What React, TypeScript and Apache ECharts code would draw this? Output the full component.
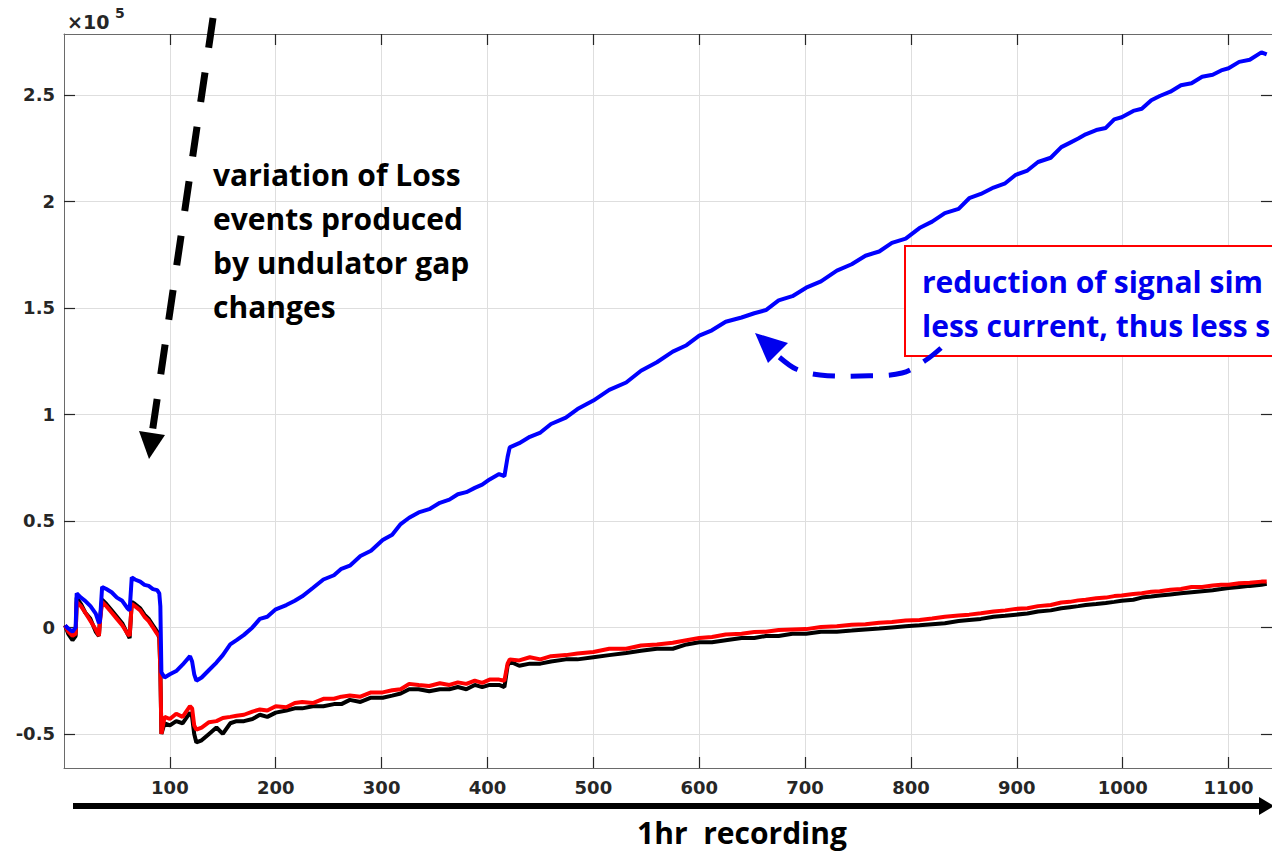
import React, { useEffect, useRef } from "react";
import * as echarts from "echarts";

// Sample index (x) shared by all three traces
const X = [1, 4, 8, 11, 12, 16, 20, 25, 30, 33, 34, 36, 40, 45, 50, 55, 60, 62, 64, 67, 72, 76, 80, 84, 88, 90, 91, 92, 95, 100, 106, 112, 119, 121, 123, 125, 130, 137, 144, 150, 157, 163, 170, 178, 185, 192, 200, 210, 218, 225, 235, 245, 255, 262, 270, 280, 290, 301, 310, 318, 326, 335, 345, 355, 364, 372, 380, 388, 395, 402, 411, 416, 419, 421, 430, 440, 450, 460, 474, 485, 500, 515, 531, 545, 560, 575, 588, 600, 612, 625, 640, 652, 663, 675, 688, 701, 715, 730, 744, 757, 770, 782, 795, 808, 820, 832, 845, 855, 866, 878, 889, 899, 910, 920, 932, 942, 950, 958, 965, 975, 984, 992, 999, 1010, 1018, 1027, 1035, 1045, 1055, 1065, 1075, 1085, 1093, 1100, 1110, 1120, 1131, 1136];

// values in units of 1e5
const BLUE = [0.01, -0.005, -0.02, 0.0, 0.16, 0.14, 0.125, 0.1, 0.065, 0.02, 0.03, 0.19, 0.18, 0.165, 0.14, 0.125, 0.09, 0.08, 0.235, 0.225, 0.215, 0.2, 0.195, 0.18, 0.175, 0.16, 0.1, -0.21, -0.235, -0.22, -0.205, -0.175, -0.135, -0.16, -0.22, -0.25, -0.235, -0.2, -0.165, -0.13, -0.08, -0.06, -0.035, 0.0, 0.04, 0.05, 0.085, 0.105, 0.125, 0.146, 0.185, 0.225, 0.245, 0.275, 0.29, 0.335, 0.36, 0.41, 0.435, 0.485, 0.515, 0.54, 0.555, 0.585, 0.6, 0.625, 0.635, 0.655, 0.67, 0.695, 0.72, 0.71, 0.8, 0.845, 0.865, 0.895, 0.915, 0.955, 0.985, 1.025, 1.065, 1.115, 1.15, 1.205, 1.245, 1.295, 1.325, 1.37, 1.395, 1.435, 1.455, 1.475, 1.49, 1.535, 1.555, 1.595, 1.625, 1.675, 1.705, 1.745, 1.765, 1.805, 1.825, 1.875, 1.905, 1.945, 1.965, 2.015, 2.035, 2.065, 2.085, 2.125, 2.145, 2.185, 2.205, 2.255, 2.275, 2.295, 2.315, 2.335, 2.345, 2.385, 2.395, 2.425, 2.435, 2.475, 2.495, 2.515, 2.545, 2.555, 2.585, 2.595, 2.615, 2.625, 2.655, 2.665, 2.7, 2.69];

const RED = [0.01, -0.02, -0.04, -0.03, 0.12, 0.1, 0.07, 0.03, -0.01, -0.04, 0.03, 0.12, 0.1, 0.07, 0.04, 0.01, -0.03, -0.04, 0.11, 0.1, 0.08, 0.05, 0.03, 0.0, -0.03, -0.04, -0.2, -0.5, -0.42, -0.43, -0.405, -0.42, -0.37, -0.38, -0.46, -0.48, -0.47, -0.445, -0.44, -0.425, -0.42, -0.415, -0.41, -0.395, -0.385, -0.39, -0.37, -0.375, -0.355, -0.35, -0.355, -0.335, -0.335, -0.325, -0.32, -0.325, -0.305, -0.305, -0.295, -0.29, -0.265, -0.27, -0.275, -0.262, -0.27, -0.258, -0.265, -0.25, -0.26, -0.245, -0.245, -0.25, -0.17, -0.15, -0.155, -0.14, -0.15, -0.135, -0.13, -0.122, -0.115, -0.1, -0.1, -0.085, -0.08, -0.072, -0.06, -0.05, -0.045, -0.033, -0.03, -0.022, -0.02, -0.012, -0.01, -0.008, 0.002, 0.005, 0.012, 0.015, 0.022, 0.025, 0.032, 0.035, 0.042, 0.05, 0.056, 0.06, 0.067, 0.075, 0.08, 0.087, 0.09, 0.1, 0.105, 0.117, 0.12, 0.127, 0.13, 0.137, 0.14, 0.147, 0.15, 0.157, 0.16, 0.167, 0.17, 0.177, 0.18, 0.19, 0.19, 0.197, 0.2, 0.2, 0.207, 0.21, 0.215, 0.215];

const BLACK = [0.01, -0.03, -0.06, -0.04, 0.14, 0.11, 0.07, 0.04, -0.02, -0.04, 0.04, 0.13, 0.11, 0.08, 0.05, 0.02, -0.03, -0.05, 0.12, 0.11, 0.09, 0.06, 0.04, 0.01, -0.02, -0.05, -0.2, -0.5, -0.45, -0.46, -0.44, -0.45, -0.4, -0.42, -0.5, -0.54, -0.53, -0.5, -0.47, -0.5, -0.45, -0.44, -0.44, -0.43, -0.41, -0.42, -0.4, -0.39, -0.38, -0.38, -0.37, -0.37, -0.36, -0.36, -0.34, -0.35, -0.33, -0.33, -0.32, -0.31, -0.29, -0.29, -0.3, -0.29, -0.29, -0.28, -0.29, -0.27, -0.28, -0.27, -0.27, -0.28, -0.18, -0.16, -0.18, -0.17, -0.17, -0.16, -0.15, -0.15, -0.14, -0.13, -0.12, -0.11, -0.1, -0.1, -0.08, -0.07, -0.07, -0.06, -0.05, -0.05, -0.04, -0.04, -0.03, -0.03, -0.02, -0.02, -0.015, -0.01, -0.005, 0.0, 0.005, 0.01, 0.015, 0.02, 0.03, 0.035, 0.04, 0.05, 0.055, 0.06, 0.065, 0.075, 0.08, 0.09, 0.095, 0.1, 0.105, 0.11, 0.115, 0.12, 0.125, 0.13, 0.14, 0.145, 0.15, 0.155, 0.16, 0.165, 0.17, 0.175, 0.18, 0.185, 0.19, 0.195, 0.2, 0.205];

const X_TICKS = [100, 200, 300, 400, 500, 600, 700, 800, 900, 1000, 1100];
const Y_TICKS = [-0.5, 0, 0.5, 1, 1.5, 2, 2.5];

const NOTE_LEFT = "variation of Loss\nevents produced\nby undulator gap\nchanges";
// the boxed note runs off the right edge of the reference picture; visible part only
const NOTE_RIGHT = "reduction of signal sim\nless current, thus less s";
const X_TITLE = "1hr  recording";

const pairs = (ys: number[]) => X.map((x, i) => [x, ys[i]]);

export default function App() {
  const ref = useRef<HTMLDivElement>(null);
  useEffect(() => {
    if (!ref.current) return;
    const chart = echarts.init(ref.current, null, { renderer: "svg" });
    const tickLabel = {
      color: "#262626",
      fontFamily: "DejaVu Sans",
      fontWeight: "bold" as const,
      fontSize: 18,
    };
    const gridLine = { show: true, lineStyle: { color: "#dedede", width: 1 } };
    const axLine = { show: true, onZero: false, lineStyle: { color: "#6a6a6a", width: 1 } };
    const tick = (vals: number[]) => ({
      show: true,
      inside: true,
      length: 11,
      customValues: vals,
      lineStyle: { color: "#262626", width: 1.2 },
    });
    const annoFont = { fontFamily: "Open Sans", fontWeight: "bold" as const };
    chart.setOption({
      animation: false,
      backgroundColor: "#ffffff",
      grid: { left: 64, right: -4, top: 34, bottom: 84, containLabel: false },
      xAxis: [
        {
          type: "value",
          min: 0,
          max: 1141,
          position: "bottom",
          axisLine: axLine,
          axisTick: tick(X_TICKS),
          axisLabel: { ...tickLabel, margin: 10, customValues: X_TICKS, formatter: (v: number) => String(v) },
          splitLine: gridLine,
        },
        {
          type: "value",
          min: 0,
          max: 1141,
          position: "top",
          axisLine: axLine,
          axisTick: tick(X_TICKS),
          axisLabel: { show: false },
          splitLine: { show: false },
        },
      ],
      yAxis: [
        {
          type: "value",
          min: -0.66,
          max: 2.786,
          position: "left",
          axisLine: axLine,
          axisTick: tick(Y_TICKS),
          axisLabel: {
            ...tickLabel,
            margin: 9,
            customValues: Y_TICKS,
            formatter: (v: number) => String(v),
          },
          splitLine: gridLine,
        },
        {
          type: "value",
          min: -0.66,
          max: 2.786,
          position: "right",
          axisLine: axLine,
          axisTick: tick(Y_TICKS),
          axisLabel: { show: false },
          splitLine: { show: false },
        },
      ],
      series: [
        {
          name: "black",
          type: "line",
          data: pairs(BLACK),
          showSymbol: false,
          lineStyle: { color: "#000000", width: 4 },
          z: 2,
        },
        {
          name: "red",
          type: "line",
          data: pairs(RED),
          showSymbol: false,
          lineStyle: { color: "#ff0000", width: 4 },
          z: 3,
        },
        {
          name: "blue",
          type: "line",
          data: pairs(BLUE),
          showSymbol: false,
          lineStyle: { color: "#0000ff", width: 4 },
          z: 4,
        },
      ],
      graphic: [
        // x10^5 exponent
        {
          type: "text",
          x: 67,
          y: 12,
          style: { text: "×10", fontFamily: "DejaVu Sans", fontSize: 19, fontWeight: "bold", fill: "#262626" },
          z: 100,
        },
        {
          type: "text",
          x: 115,
          y: 6,
          style: { text: "5", fontFamily: "DejaVu Sans", fontSize: 14, fontWeight: "bold", fill: "#262626" },
          z: 100,
        },
        // black dashed arrow
        {
          type: "line",
          shape: { x1: 213, y1: 18, x2: 152, y2: 434 },
          style: { stroke: "#000", lineWidth: 7, lineDash: [30, 25] },
          z: 100,
        },
        {
          type: "polygon",
          shape: { points: [[139, 431], [165, 435], [149, 459]] },
          style: { fill: "#000" },
          z: 100,
        },
        {
          type: "text",
          x: 213,
          y: 152,
          style: {
            text: NOTE_LEFT,
            ...annoFont,
            fontSize: 30,
            lineHeight: 44,
            fill: "#000",
            verticalAlign: "top",
          },
          z: 100,
        },
        // red boxed note
        {
          type: "rect",
          shape: { x: 905, y: 246, width: 420, height: 110 },
          style: { fill: "#ffffff", stroke: "#ff0000", lineWidth: 2 },
          z: 100,
        },
        {
          type: "text",
          x: 922,
          y: 259,
          style: {
            text: NOTE_RIGHT,
            ...annoFont,
            fontSize: 30,
            lineHeight: 44,
            fill: "#0000ee",
            verticalAlign: "top",
          },
          z: 101,
        },
        // blue dashed curved arrow
        {
          type: "polyline",
          shape: {
            points: [[941, 348], [926, 360], [902, 373], [860, 376], [820, 375], [796, 369], [778, 356]],
            smooth: 0.35,
          },
          style: { stroke: "#0000ee", lineWidth: 5, lineDash: [22, 16], fill: null },
          z: 100,
        },
        {
          type: "polygon",
          shape: { points: [[755, 333], [788, 343], [768, 363]] },
          style: { fill: "#0000ee" },
          z: 100,
        },
        // bottom black arrow + title
        {
          type: "line",
          shape: { x1: 73, y1: 806, x2: 1262, y2: 806 },
          style: { stroke: "#000", lineWidth: 6 },
          z: 100,
        },
        {
          type: "polygon",
          shape: { points: [[1259, 797], [1274, 806], [1259, 815]] },
          style: { fill: "#000" },
          z: 100,
        },
        {
          type: "text",
          x: 742,
          y: 832,
          style: {
            text: X_TITLE,
            ...annoFont,
            fontSize: 30,
            lineHeight: 30,
            fill: "#000",
            align: "center",
            verticalAlign: "middle",
          },
          z: 100,
        },
      ],
    });
    return () => chart.dispose();
  }, []);
  return <div ref={ref} style={{ width: 1272, height: 852, position: "fixed", left: 0, top: 0 }} />;
}
